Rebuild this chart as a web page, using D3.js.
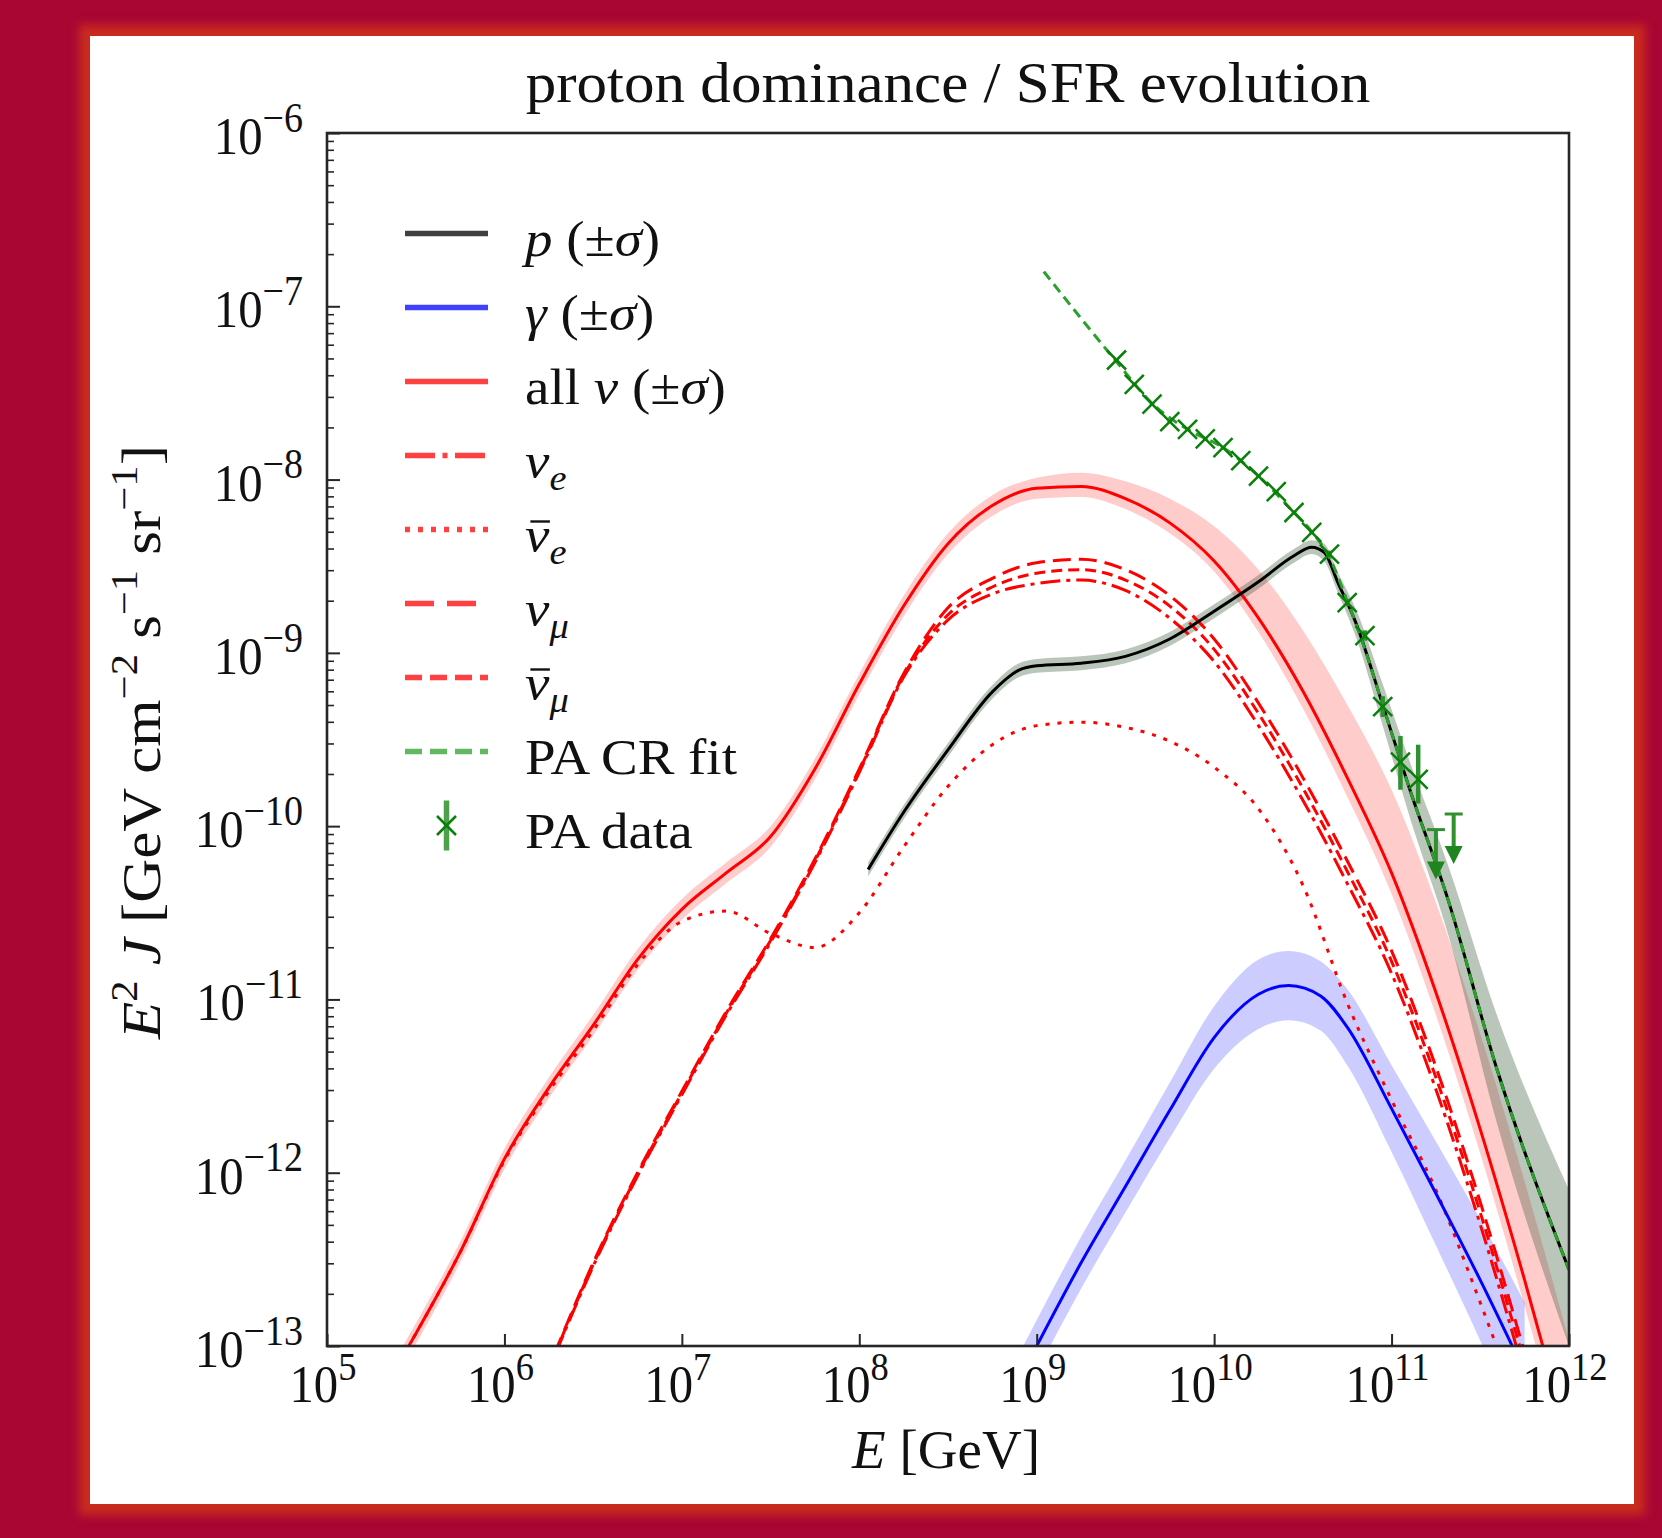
<!DOCTYPE html>
<html>
<head>
<meta charset="utf-8">
<title>proton dominance / SFR evolution</title>
<script src="https://cdn.jsdelivr.net/npm/d3@7"></script>
<style>
  html, body { margin: 0; padding: 0; }
  body { width: 1662px; height: 1538px; background: #a90634; position: relative; overflow: hidden; }
  #panel { position: absolute; left: 90px; top: 36px; width: 1544px; height: 1468px; background: #fff;
           box-shadow: 0 0 9px 11px #c92c1f; }
  #chart { position: absolute; left: 0; top: 0; }
  text { font-family: "Liberation Serif", "Times New Roman", serif; fill: #111; }
</style>
</head>
<body>
<div id="panel"></div>
<svg id="chart" width="1662" height="1538"></svg>
<script>
// values are log10 of E [GeV] and of E^2 J [GeV cm^-2 s^-1 sr^-1]

// neutrino curves share one energy grid
var nuLogE = [5.25, 5.5, 5.75, 6.0, 6.25, 6.5, 6.75, 7.0, 7.25, 7.5, 7.75, 8.0, 8.25, 8.5,
  8.75, 9.0, 9.25, 9.5, 9.75, 10.0, 10.25, 10.5, 10.75, 11.0, 11.25, 11.5, 11.75, 12.0];
var nuAll = [-13.37, -12.93, -12.46, -11.92, -11.51, -11.15, -10.77, -10.48, -10.27, -10.06, -9.67, -9.18, -8.73, -8.37,
  -8.15, -8.05, -8.04, -8.11, -8.25, -8.47, -8.80, -9.22, -9.72, -10.27, -10.96, -11.75, -12.62, -13.55];
var nuAllHi = [-13.31, -12.87, -12.40, -11.86, -11.45, -11.09, -10.71, -10.42, -10.21, -10.00, -9.61, -9.12, -8.67, -8.31,
  -8.09, -7.99, -7.96, -8.01, -8.11, -8.27, -8.52, -8.87, -9.30, -9.79, -10.44, -11.20, -12.05, -12.97];
var nuAllLo = [-13.43, -12.99, -12.52, -11.98, -11.57, -11.21, -10.83, -10.54, -10.33, -10.12, -9.73, -9.24, -8.79, -8.43,
  -8.21, -8.11, -8.10, -8.17, -8.31, -8.53, -8.88, -9.32, -9.83, -10.39, -11.09, -11.89, -12.77, -13.70];
var nuE = [-15.3, -14.8, -14.3, -13.8, -13.14, -12.54, -12.02, -11.55, -11.09, -10.67, -10.21, -9.69, -9.14, -8.81,
  -8.66, -8.60, -8.58, -8.64, -8.80, -9.05, -9.42, -9.85, -10.33, -10.85, -11.52, -12.30, -13.17, -14.10];
var nuEBar = [-13.37, -12.93, -12.46, -11.93, -11.53, -11.18, -10.80, -10.55, -10.49, -10.62, -10.70, -10.50, -10.12, -9.77,
  -9.53, -9.42, -9.40, -9.43, -9.51, -9.66, -9.90, -10.34, -11.02, -11.58, -12.10, -12.75, -13.45, -14.2];
var nuMu = [-15.2, -14.7, -14.2, -13.7, -13.12, -12.52, -12.00, -11.53, -11.07, -10.65, -10.19, -9.67, -9.12, -8.74,
  -8.57, -8.48, -8.46, -8.52, -8.67, -8.92, -9.29, -9.72, -10.20, -10.72, -11.39, -12.17, -13.04, -13.97];
var nuMuBar = [-15.25, -14.75, -14.25, -13.75, -13.13, -12.53, -12.01, -11.54, -11.08, -10.66, -10.20, -9.68, -9.13, -8.78,
  -8.62, -8.54, -8.52, -8.58, -8.73, -8.98, -9.35, -9.78, -10.26, -10.78, -11.45, -12.23, -13.10, -14.00];

// photons
var gamLogE = [8.75, 9.0, 9.25, 9.5, 9.75, 10.0, 10.25, 10.42, 10.6, 10.75, 11.0, 11.25, 11.5, 11.75];
var gam = [-13.5, -13.0, -12.52, -12.08, -11.64, -11.22, -10.97, -10.92, -10.98, -11.16, -11.63, -12.12, -12.62, -13.15];
var gamHi = [-13.35, -12.85, -12.37, -11.93, -11.48, -11.04, -10.77, -10.72, -10.78, -10.94, -11.38, -11.82, -12.27, -12.75];
var gamLo = [-13.65, -13.15, -12.67, -12.23, -11.80, -11.40, -11.17, -11.12, -11.18, -11.38, -11.88, -12.42, -12.97, -13.55];

// protons
var pLogE = [8.05, 8.25, 8.5, 8.75, 8.9, 9.0, 9.25, 9.5, 9.75, 10.0, 10.25, 10.45, 10.55, 10.62, 10.7, 10.8, 10.95, 11.1, 11.32, 11.59, 12.0];
var pF = [-10.25, -9.92, -9.56, -9.225, -9.10, -9.075, -9.06, -9.02, -8.92, -8.76, -8.59, -8.44, -8.39, -8.42, -8.60, -8.83, -9.30, -9.78, -10.43, -11.39, -12.56];
var pHi = [-10.21, -9.88, -9.52, -9.185, -9.06, -9.035, -9.02, -8.98, -8.88, -8.72, -8.55, -8.40, -8.35, -8.37, -8.54, -8.75, -9.18, -9.62, -10.23, -11.08, -12.10];
var pLo = [-10.29, -9.96, -9.60, -9.265, -9.14, -9.115, -9.10, -9.06, -8.96, -8.80, -8.63, -8.48, -8.43, -8.47, -8.66, -8.91, -9.42, -9.94, -10.63, -11.70, -13.00];

// Pierre Auger cosmic-ray fit
var fitLogE = [9.04, 9.25, 9.45, 9.65, 9.85, 10.05, 10.25, 10.45, 10.55, 10.65, 10.75, 10.85, 10.95, 11.1, 11.32, 11.59, 12.0];
var fitF = [-6.80, -7.07, -7.32, -7.56, -7.71, -7.815, -7.98, -8.19, -8.30, -8.45, -8.70, -8.98, -9.30, -9.78, -10.43, -11.39, -12.56];

// Pierre Auger data (errors in dex, last two are upper limits)
var paLogE = [9.45, 9.55, 9.65, 9.75, 9.85, 9.95, 10.05, 10.15, 10.25, 10.35, 10.45, 10.55, 10.65, 10.75, 10.85, 10.95, 11.05, 11.15, 11.25, 11.35];
var paF = [-7.31, -7.45, -7.565, -7.665, -7.71, -7.765, -7.815, -7.89, -7.98, -8.07, -8.19, -8.305, -8.43, -8.71, -8.90, -9.31, -9.63, -9.73, -10.02, -9.93];
var paErrUp = [0.01, 0.01, 0.01, 0.01, 0.01, 0.01, 0.01, 0.01, 0.01, 0.01, 0.01, 0.01, 0.02, 0.02, 0.03, 0.06, 0.15, 0.20, 0, 0];
var paErrDn = [0.01, 0.01, 0.01, 0.01, 0.01, 0.01, 0.01, 0.01, 0.01, 0.01, 0.01, 0.01, 0.02, 0.02, 0.03, 0.06, 0.16, 0.14, 0, 0];
var paUpLim = [0, 0, 0, 0, 0, 0, 0, 0, 0, 0, 0, 0, 0, 0, 0, 0, 0, 0, 1, 1];

var xTicks = [5, 6, 7, 8, 9, 10, 11, 12];
var yTicks = [-13, -12, -11, -10, -9, -8, -7, -6];

// ---- layout ----
var pLeft = 327, pRight = 1569, pTop = 133, pBottom = 1346;
var svg = d3.select("#chart");

var x = d3.scaleLog().domain([1e5, 1e12]).range([pLeft, pRight]);
var y = d3.scaleLog().domain([1e-13, 1e-6]).range([pBottom, pTop]);

function pow(v) { return Math.pow(10, v); }
function series(logE, logF) {
  return logE.map(function(e, i) { return [pow(e), pow(logF[i])]; });
}
function band(logE, lo, hi) {
  return logE.map(function(e, i) { return [pow(e), pow(lo[i]), pow(hi[i])]; });
}

var line = d3.line()
  .x(function(d) { return x(d[0]); })
  .y(function(d) { return y(d[1]); })
  .curve(d3.curveMonotoneX);
var area = d3.area()
  .x(function(d) { return x(d[0]); })
  .y0(function(d) { return y(d[1]); })
  .y1(function(d) { return y(d[2]); })
  .curve(d3.curveMonotoneX);

svg.append("defs").append("clipPath").attr("id", "clip")
  .append("rect").attr("x", pLeft).attr("y", pTop).attr("width", pRight - pLeft).attr("height", pBottom - pTop);

var plot = svg.append("g").attr("clip-path", "url(#clip)");

// uncertainty bands
plot.append("path").datum(band(nuLogE, nuAllLo, nuAllHi)).attr("d", area)
  .attr("fill", "#ff0000").attr("fill-opacity", 0.2);
plot.append("path").datum(band(gamLogE, gamLo, gamHi)).attr("d", area)
  .attr("fill", "#0000ff").attr("fill-opacity", 0.2);
plot.append("path").datum(band(pLogE, pLo, pHi)).attr("d", area)
  .attr("fill", "#3d5c3d").attr("fill-opacity", 0.35);

function curve(data, color, width, dash) {
  plot.append("path").datum(data).attr("d", line)
    .attr("fill", "none").attr("stroke", color).attr("stroke-width", width)
    .attr("stroke-dasharray", dash || null);
}
curve(series(nuLogE, nuEBar), "#ff0000", 3, "4,8");
curve(series(nuLogE, nuE), "#ff0000", 3, "20,6,4,6");
curve(series(nuLogE, nuMu), "#ff0000", 3, "18,8");
curve(series(nuLogE, nuMuBar), "#ff0000", 3, "11,6");
curve(series(nuLogE, nuAll), "#ff0000", 3);
curve(series(gamLogE, gam), "#0000ff", 3);
curve(series(pLogE, pF), "#000000", 3);
curve(series(fitLogE, fitF), "#2ca02c", 3, "10,6");

// Auger data points
var green = "#0a7f0a";
function xMark(g, cx, cy, r) {
  g.append("path")
    .attr("d", "M" + (cx - r) + "," + (cy - r) + "L" + (cx + r) + "," + (cy + r) +
               "M" + (cx - r) + "," + (cy + r) + "L" + (cx + r) + "," + (cy - r))
    .attr("stroke", green).attr("stroke-width", 2.5).attr("fill", "none");
}
var pa = plot.append("g");
paLogE.forEach(function(e, i) {
  var cx = x(pow(e)), cy = y(pow(paF[i]));
  if (paUpLim[i]) {
    pa.append("line").attr("x1", cx - 9).attr("x2", cx + 9).attr("y1", cy).attr("y2", cy)
      .attr("stroke", "#2e912e").attr("stroke-width", 3);
    pa.append("line").attr("x1", cx).attr("x2", cx).attr("y1", cy).attr("y2", cy + 34)
      .attr("stroke", "#2e912e").attr("stroke-width", 4);
    pa.append("path").attr("d", "M" + (cx - 9) + "," + (cy + 32) + "L" + (cx + 9) + "," + (cy + 32) + "L" + cx + "," + (cy + 50) + "Z")
      .attr("fill", "#1f861f");
  } else {
    pa.append("line").attr("x1", cx).attr("x2", cx)
      .attr("y1", y(pow(paF[i] + paErrUp[i]))).attr("y2", y(pow(paF[i] - paErrDn[i])))
      .attr("stroke", "#2e912e").attr("stroke-width", 4.5);
    xMark(pa, cx, cy, 9.5);
  }
});

// ---- axes ----
var minor = [];
for (var d = -13; d < -6; d++) for (var k = 2; k <= 9; k++) minor.push(k * pow(d));

var axY1 = svg.append("g").attr("transform", "translate(" + pLeft + ",0)")
  .call(d3.axisLeft(y).tickValues(minor).tickSize(-7).tickFormat(""));
var axY2 = svg.append("g").attr("transform", "translate(" + pLeft + ",0)")
  .call(d3.axisLeft(y).tickValues(yTicks.map(pow)).tickSize(-13).tickFormat(""));
var axX = svg.append("g").attr("transform", "translate(0," + pBottom + ")")
  .call(d3.axisBottom(x).tickValues(xTicks.map(pow)).tickSize(-12).tickFormat(""));
[axY1, axY2, axX].forEach(function(a) {
  a.select(".domain").remove();
  a.selectAll("line").attr("stroke", "#262626").attr("stroke-width", 2);
});
axY1.selectAll("line").attr("stroke-width", 1.6);

svg.append("rect").attr("x", pLeft).attr("y", pTop).attr("width", pRight - pLeft).attr("height", pBottom - pTop)
  .attr("fill", "none").attr("stroke", "#262626").attr("stroke-width", 2.6);

// rich text: parts with italic / sup / sub, optional bar over the first glyph
function rich(g, parts, size, anchor, supScale) {
  var t = g.append("text").attr("font-size", size).attr("text-anchor", anchor || "start");
  var shift = 0;
  parts.forEach(function(p) {
    var s = t.append("tspan").text(p.t);
    var want = p.sup ? -0.42 * size : (p.sub ? 0.25 * size : 0);
    if (want !== shift) s.attr("dy", want - shift);
    shift = want;
    if (p.sup || p.sub) s.attr("font-size", size * (supScale || 0.7));
    if (p.i) s.attr("font-style", "italic");
  });
  if (parts[0].bar) {
    var ext = t.node().getExtentOfChar(0);
    g.append("line")
      .attr("x1", ext.x + ext.width * 0.22).attr("x2", ext.x + ext.width * 1.02)
      .attr("y1", -0.6 * size).attr("y2", -0.6 * size)
      .attr("stroke", "#111").attr("stroke-width", 2.4);
  }
  return t;
}
function fitWidth(t, w) {
  var L = t.node().getComputedTextLength();
  t.attr("transform", "scale(" + (w / L) + ",1)");
}

xTicks.forEach(function(v) {
  var g = svg.append("g").attr("transform", "translate(" + (x(pow(v)) - 4) + ",1402) scale(0.92,1)");
  rich(g, [{t: "10"}, {t: String(v), sup: true}], 53, "middle", 0.75);
});
yTicks.forEach(function(v) {
  var g = svg.append("g").attr("transform", "translate(303," + (y(pow(v)) + 21) + ") scale(0.92,1)");
  rich(g, [{t: "10"}, {t: "\u2212" + (-v), sup: true}], 53, "end", 0.78);
});

// title and axis labels
var tg = svg.append("g").attr("transform", "translate(948,102)");
fitWidth(rich(tg, [{t: "proton dominance / SFR evolution"}], 56, "middle"), 845);

var xg = svg.append("g").attr("transform", "translate(946,1468)");
fitWidth(rich(xg, [{t: "E", i: true}, {t: " [GeV]"}], 54, "middle"), 188);

var yg = svg.append("g").attr("transform", "translate(160,742) rotate(-90)");
fitWidth(rich(yg, [{t: "E", i: true}, {t: "2", sup: true}, {t: " "}, {t: "J", i: true},
  {t: " [GeV cm"}, {t: "\u22122", sup: true}, {t: " s"}, {t: "\u22121", sup: true},
  {t: " sr"}, {t: "\u22121", sup: true}, {t: "]"}], 54, "middle"), 594);

// ---- legend ----
var legendLabels = [
  [{t: "p", i: true}, {t: " (\u00b1"}, {t: "\u03c3", i: true}, {t: ")"}],
  [{t: "\u03b3", i: true}, {t: " (\u00b1"}, {t: "\u03c3", i: true}, {t: ")"}],
  [{t: "all "}, {t: "\u03bd", i: true}, {t: " (\u00b1"}, {t: "\u03c3", i: true}, {t: ")"}],
  [{t: "\u03bd", i: true}, {t: "e", i: true, sub: true}],
  [{t: "\u03bd", i: true, bar: true}, {t: "e", i: true, sub: true}],
  [{t: "\u03bd", i: true}, {t: "\u03bc", i: true, sub: true}],
  [{t: "\u03bd", i: true, bar: true}, {t: "\u03bc", i: true, sub: true}],
  [{t: "PA CR fit"}],
  [{t: "PA data"}]
];
var legendStyle = [
  ["#000000", null], ["#0000ff", null], ["#ff0000", null], ["#ff0000", "30,7.5,5,7.5"],
  ["#ff0000", "5,8"], ["#ff0000", "29,13"], ["#ff0000", "17,8"], ["#2ca02c", "17,8"], [null, null]
];
var lg = svg.append("g");
legendLabels.forEach(function(parts, i) {
  var ly = 233.5 + i * 74;
  var st = legendStyle[i];
  if (st[0]) {
    lg.append("line").attr("x1", 405).attr("x2", 488).attr("y1", ly).attr("y2", ly)
      .attr("stroke", st[0]).attr("stroke-opacity", 0.75).attr("stroke-width", 5.5)
      .attr("stroke-dasharray", st[1]);
  } else {
    lg.append("line").attr("x1", 446.5).attr("x2", 446.5).attr("y1", ly - 25).attr("y2", ly + 25)
      .attr("stroke", "#2e912e").attr("stroke-opacity", 0.85).attr("stroke-width", 5.5);
    xMark(lg, 446.5, ly, 9.5);
  }
  var g = lg.append("g").attr("transform", "translate(525," + (ly + 22) + ") scale(1.1,1)");
  rich(g, parts, 50, "start");
});
</script>
</body>
</html>
